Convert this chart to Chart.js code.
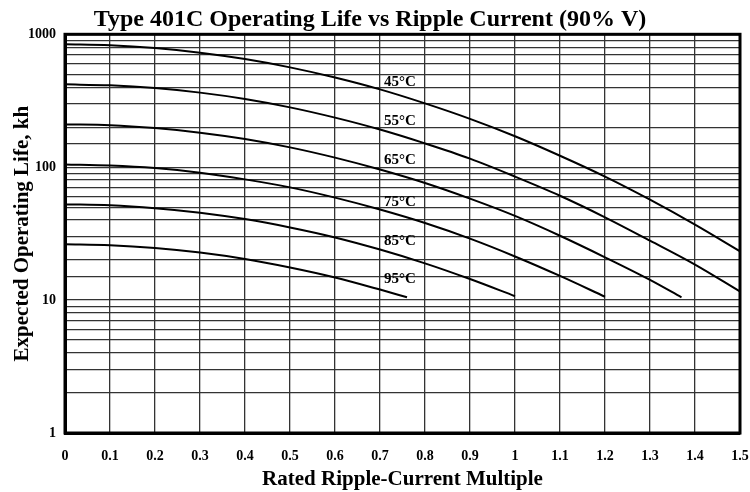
<!DOCTYPE html>
<html>
<head>
<meta charset="utf-8">
<script src="https://cdn.jsdelivr.net/npm/chart.js@4/dist/chart.umd.min.js"></script>
<style>
  html, body { margin: 0; padding: 0; background: #fff; }
  #wrap { width: 750px; height: 492px; }
</style>
</head>
<body>
<div id="wrap"><canvas id="lifeChart" width="750" height="492"></canvas></div>
<script>
// DATA
const ripple = [0, 0.1, 0.2, 0.3, 0.4, 0.5, 0.6, 0.7, 0.8, 0.9, 1.0, 1.1, 1.2, 1.3, 1.4, 1.5];
const ripple65 = [0, 0.1, 0.2, 0.3, 0.4, 0.5, 0.6, 0.7, 0.8, 0.9, 1.0, 1.1, 1.2, 1.3, 1.37];
const ripple95 = [0, 0.1, 0.2, 0.3, 0.4, 0.5, 0.6, 0.7, 0.76];

const life45 = [840, 827, 788, 727, 651, 564, 473, 385, 302, 231, 171, 122, 85, 57, 37, 23.3];
const life55 = [420, 413, 394, 364, 326, 282, 236, 192, 151, 116, 85, 61, 42, 28, 18.5, 11.6];
const life65 = [210, 207, 197, 182, 163, 141, 118, 96, 76, 58, 43, 30.5, 21, 14.2, 10.5];
const life75 = [105, 103, 98.5, 91, 81, 70.5, 59, 48, 38, 29, 21.3, 15.2, 10.6];
const life85 = [52.5, 51.7, 49.2, 45.5, 40.7, 35.2, 29.6, 24, 18.9, 14.4, 10.7];
const life95 = [26.3, 25.9, 24.7, 22.8, 20.4, 17.6, 14.8, 12, 10.5];

const tempLabels = ["45°C", "55°C", "65°C", "75°C", "85°C", "95°C"];
const labelRipple = 0.709;
const labelLife = [435, 222, 113, 54.6, 27.8, 14.4];

const yTickLabels = [1, 10, 100, 1000];

const FONT = "'Liberation Serif', 'Times New Roman', serif";

function pts(xs, ys) {
  return ys.map((y, i) => ({ x: xs[i], y }));
}

const series = [
  pts(ripple, life45),
  pts(ripple, life55),
  pts(ripple65, life65),
  pts(ripple, life75),
  pts(ripple, life85),
  pts(ripple95, life95)
];

// curve labels + heavy frame
const extrasPlugin = {
  id: "extras",
  afterDatasetsDraw(chart) {
    const ctx = chart.ctx;
    const xs = chart.scales.x, ys = chart.scales.y;
    ctx.save();
    ctx.fillStyle = "#000";
    ctx.font = "bold 15px " + FONT;
    ctx.textAlign = "left";
    ctx.textBaseline = "middle";
    tempLabels.forEach((t, i) => {
      ctx.fillText(t, xs.getPixelForValue(labelRipple), ys.getPixelForValue(labelLife[i]));
    });
    const a = chart.chartArea;
    ctx.strokeStyle = "#000";
    ctx.lineWidth = 3;
    ctx.strokeRect(a.left, a.top, a.right - a.left, a.bottom - a.top);
    ctx.restore();
  }
};

new Chart(document.getElementById("lifeChart"), {
  type: "line",
  data: {
    datasets: series.map(d => ({
      data: d,
      borderColor: "#000",
      borderWidth: 2,
      pointRadius: 0,
      fill: false,
      tension: 0.4,
      cubicInterpolationMode: "monotone"
    }))
  },
  options: {
    responsive: false,
    animation: false,
    layout: { padding: { left: 0, right: 10, top: 0, bottom: 0 } },
    plugins: {
      legend: { display: false },
      tooltip: { enabled: false },
      title: {
        display: true,
        text: "Type 401C Operating Life vs Ripple Current (90% V)",
        color: "#000",
        font: { family: FONT, size: 24, weight: "bold" },
        padding: { top: 5.5, bottom: 0 }
      }
    },
    scales: {
      x: {
        type: "linear",
        min: 0,
        max: 1.5,
        grid: { color: "#333", lineWidth: 1.3, drawTicks: false },
        border: { color: "#000", width: 3 },
        ticks: {
          stepSize: 0.1,
          padding: 15,
          color: "#000",
          font: { family: FONT, size: 14, weight: "bold" },
          callback: v => String(Number(v.toFixed(1)))
        },
        title: {
          display: true,
          text: "Rated Ripple-Current Multiple",
          color: "#000",
          font: { family: FONT, size: 21, weight: "bold" },
          padding: { top: 0, bottom: 0 }
        },
        afterFit: s => { s.height = 59; s.paddingLeft = 0; s.paddingRight = 0; }
      },
      y: {
        type: "logarithmic",
        min: 1,
        max: 1000,
        grid: { color: "#333", lineWidth: 1.3, drawTicks: false },
        border: { color: "#000", width: 3 },
        ticks: {
          autoSkip: false,
          padding: 9,
          color: "#000",
          font: { family: FONT, size: 14, weight: "bold" },
          callback: v => yTickLabels.includes(v) ? String(v) : ""
        },
        title: {
          display: true,
          text: "Expected Operating Life, kh",
          color: "#000",
          font: { family: FONT, size: 21, weight: "bold" },
          padding: { top: 10, bottom: 0 }
        },
        afterFit: s => { s.width = 65; }
      }
    }
  },
  plugins: [extrasPlugin]
});
</script>
</body>
</html>
